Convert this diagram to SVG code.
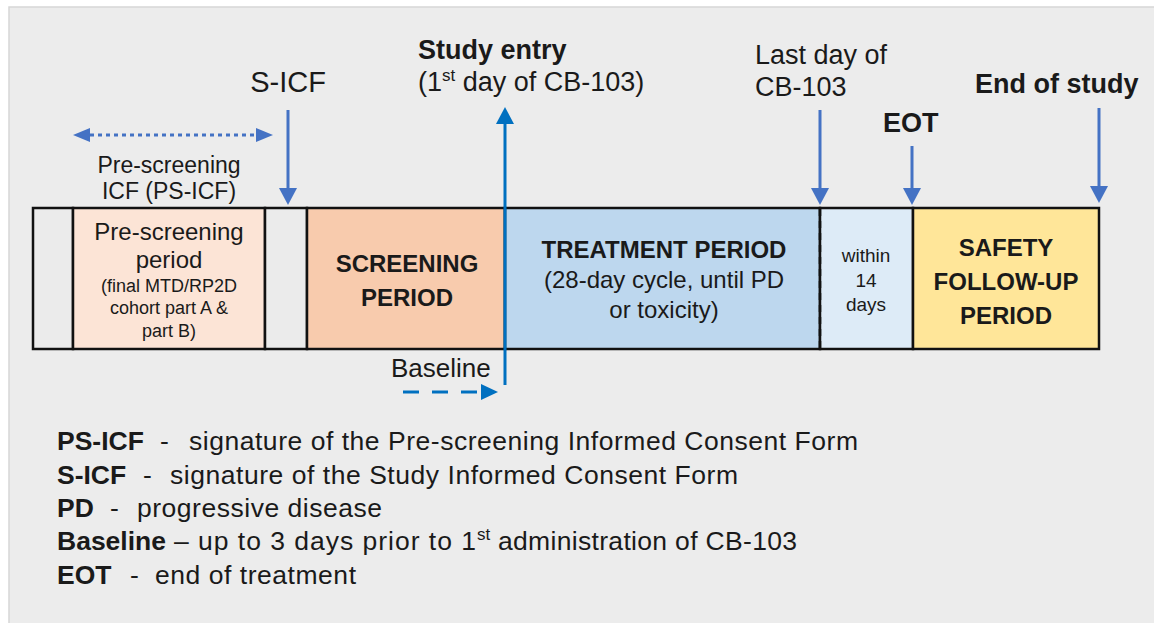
<svg xmlns="http://www.w3.org/2000/svg" width="1154" height="623" viewBox="0 0 1154 623">
<style>
text{font-family:"Liberation Sans",Arial,sans-serif;fill:#1a1a1a}
.b{font-weight:bold}
.box{stroke:#111;stroke-width:2.5}
.arA{stroke:#4472c4;stroke-width:3;fill:none}
.arB{stroke:#0070c0;stroke-width:3;fill:none}
</style>
<defs>
<marker id="hA" viewBox="0 -9 17 18" refX="0" refY="0" markerWidth="17" markerHeight="18" markerUnits="userSpaceOnUse" orient="auto-start-reverse"><path d="M0,-9 L17,0 L0,9 z" fill="#4472c4"/></marker>
<marker id="hB" viewBox="0 -9 17 18" refX="0" refY="0" markerWidth="17" markerHeight="18" markerUnits="userSpaceOnUse" orient="auto"><path d="M0,-9 L17,0 L0,9 z" fill="#0070c0"/></marker>
<marker id="hS" viewBox="0 -7 17 14" refX="0" refY="0" markerWidth="17" markerHeight="14" markerUnits="userSpaceOnUse" orient="auto-start-reverse"><path d="M0,-7 L17,0 L0,7 z" fill="#4472c4"/></marker>
<marker id="hBs" viewBox="0 -8 17 16" refX="0" refY="0" markerWidth="17" markerHeight="16" markerUnits="userSpaceOnUse" orient="auto"><path d="M0,-8 L17,0 L0,8 z" fill="#0070c0"/></marker>
</defs>
<rect x="0" y="0" width="1154" height="623" fill="#ffffff"/>
<rect x="9" y="7" width="1150" height="620" fill="#ececec" stroke="#d6d6d6" stroke-width="1.5"/>

<g id="node-blank1"><rect class="box" x="33" y="208" width="40" height="141" fill="#ebebeb"/></g>
<g id="node-prescreening">
<rect class="box" x="73" y="208" width="192" height="141" fill="#fce4d6"/>
<text x="169" y="240" font-size="24" text-anchor="middle">Pre-screening</text>
<text x="169" y="268" font-size="24" text-anchor="middle">period</text>
<text x="169" y="292" font-size="18" text-anchor="middle">(final MTD/RP2D</text>
<text x="169" y="314" font-size="18" text-anchor="middle">cohort part A &amp;</text>
<text x="169" y="337" font-size="18" text-anchor="middle">part B)</text>
</g>
<g id="node-blank2"><rect class="box" x="265" y="208" width="42" height="141" fill="#ebebeb"/></g>
<g id="node-screening">
<rect class="box" x="307" y="208" width="198" height="141" fill="#f8cbad"/>
<text class="b" x="407" y="272" font-size="24" text-anchor="middle">SCREENING</text>
<text class="b" x="407" y="306" font-size="24" text-anchor="middle">PERIOD</text>
</g>
<g id="node-treatment">
<rect x="505" y="208" width="315" height="141" fill="#bdd7ee" class="box"/>
<text class="b" x="664" y="258" font-size="24" text-anchor="middle">TREATMENT PERIOD</text>
<text x="664" y="288" font-size="24" text-anchor="middle">(28-day cycle, until PD</text>
<text x="664" y="318" font-size="24" text-anchor="middle">or toxicity)</text>
</g>
<g id="node-within">
<rect x="820" y="208" width="93" height="141" fill="#ddebf7" class="box"/>
<text x="866" y="262" font-size="19" text-anchor="middle">within</text>
<text x="866" y="287" font-size="19" text-anchor="middle">14</text>
<text x="866" y="311" font-size="19" text-anchor="middle">days</text>
</g>
<g id="node-safety">
<rect x="913" y="208" width="186" height="141" fill="#ffe699" class="box"/>
<text class="b" x="1006" y="256" font-size="24" text-anchor="middle">SAFETY</text>
<text class="b" x="1006" y="290" font-size="24" text-anchor="middle">FOLLOW-UP</text>
<text class="b" x="1006" y="324" font-size="24" text-anchor="middle">PERIOD</text>
</g>
<line x1="820" y1="209" x2="820" y2="348" stroke="#111" stroke-width="2.5" stroke-dasharray="7 5"/>

<g id="connectors">
<line class="arA" x1="90" y1="135" x2="256" y2="135" stroke-width="4" stroke-dasharray="4 4" marker-start="url(#hS)" marker-end="url(#hS)"/>
<line class="arA" x1="288" y1="110" x2="288" y2="188" marker-end="url(#hA)"/>
<line class="arB" x1="505" y1="385" x2="505" y2="124" marker-end="url(#hB)"/>
<line class="arA" x1="820" y1="110" x2="820" y2="188" marker-end="url(#hA)"/>
<line class="arA" x1="912" y1="146" x2="912" y2="188" marker-end="url(#hA)"/>
<line class="arA" x1="1099" y1="108" x2="1099" y2="186" marker-end="url(#hA)"/>
<line class="arB" x1="403" y1="392" x2="481" y2="392" stroke-width="4" stroke-dasharray="16 13" marker-end="url(#hBs)"/>
</g>

<g id="labels">
<text x="288" y="92" font-size="29" text-anchor="middle">S-ICF</text>
<text x="169" y="173" font-size="23" text-anchor="middle">Pre-screening</text>
<text x="169" y="199" font-size="23" text-anchor="middle">ICF (PS-ICF)</text>
<text class="b" x="418" y="59" font-size="27">Study entry</text>
<text x="418" y="91" font-size="27">(1<tspan font-size="17" dy="-10">st</tspan><tspan dy="10"> day of CB-103)</tspan></text>
<text x="755" y="64" font-size="27">Last day of</text>
<text x="755" y="96" font-size="27">CB-103</text>
<text class="b" x="883" y="132" font-size="27">EOT</text>
<text class="b" x="975" y="93" font-size="27">End of study</text>
<text x="391" y="377" font-size="26">Baseline</text>
</g>

<g id="legend" font-size="26.5">
<text x="57" y="450"><tspan class="b">PS-ICF</tspan><tspan x="160">-</tspan><tspan x="189" textLength="669" lengthAdjust="spacing">signature of the Pre-screening Informed Consent Form</tspan></text>
<text x="57" y="484"><tspan class="b">S-ICF</tspan><tspan x="143">-</tspan><tspan x="170" textLength="568" lengthAdjust="spacing">signature of the Study Informed Consent Form</tspan></text>
<text x="57" y="517"><tspan class="b">PD</tspan><tspan x="110">-</tspan><tspan x="137" textLength="245" lengthAdjust="spacing">progressive disease</tspan></text>
<text x="57" y="550"><tspan class="b">Baseline</tspan><tspan x="174" textLength="302" lengthAdjust="spacing">– up to 3 days prior to 1</tspan><tspan x="477" font-size="17" dy="-10">st</tspan><tspan x="498" dy="10" textLength="299" lengthAdjust="spacing">administration of CB-103</tspan></text>
<text x="57" y="584"><tspan class="b">EOT</tspan><tspan x="130">-</tspan><tspan x="155" textLength="201" lengthAdjust="spacing">end of treatment</tspan></text>
</g>
</svg>
